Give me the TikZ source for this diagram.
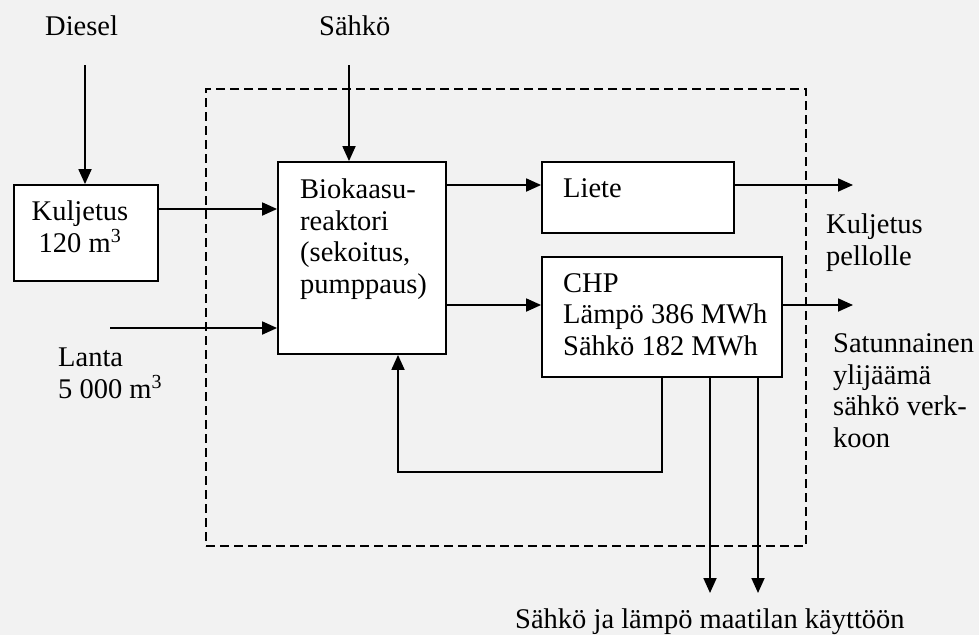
\documentclass[tikz,border=0pt]{standalone}
\usepackage{fontspec}
\setmainfont{Liberation Serif}
\usetikzlibrary{arrows.meta}
\definecolor{bg}{HTML}{F2F2F2}
\begin{document}
\begin{tikzpicture}[x=1pt,y=-1pt,
  txt/.style={inner sep=0pt, anchor=base west, align=left, font=\fontsize{28.5}{31.5}\selectfont},
  box/.style={draw, fill=white, line width=1.8pt, inner sep=0pt},
  arr/.style={line width=1.8pt, -{Triangle[length=15pt,width=13pt]}},
  frame/.style={line width=1.4pt, dash pattern=on 9pt off 5pt}]
\fill[bg] (0,0) rectangle (979,635);
\useasboundingbox (0,0) rectangle (979,635);

% system boundary
\node[frame, draw, minimum width=600pt, minimum height=457pt, inner sep=0pt] (sys) at (506,317.5) {};

% boxes
\node[box, minimum width=144pt, minimum height=96pt] (kul) at (86,233) {};
\node[box, minimum width=168pt, minimum height=192pt] (bio) at (362,258) {};
\node[box, minimum width=192pt, minimum height=71pt] (liete) at (638,197.5) {};
\node[box, minimum width=240pt, minimum height=120pt] (chp) at (662,317) {};

% texts (multi-line nodes: base = last line)
\node[txt] (diesel) at (45,35) {Diesel};
\node[txt] (sahko) at (319,35) {Sähkö};
\node[txt, anchor=base, align=center] (kultxt) at (80,252) {Kuljetus\\120 m\textsuperscript{3}};
\node[txt] (lanta) at (58,398) {Lanta\\5~000 m\textsuperscript{3}};
\node[txt] (biotxt) at (300,293) {Biokaasu-\\reaktori\\(sekoitus,\\pumppaus)};
\node[txt] (lietetxt) at (563,197) {Liete};
\node[txt] (chptxt) at (563,355) {CHP\\Lämpö 386 MWh\\Sähkö 182 MWh};
\node[txt] (pellolle) at (826,265) {Kuljetus\\pellolle};
\node[txt] (satun) at (833,447) {Satunnainen\\ylijäämä\\sähkö verk-\\koon};
\node[txt] (maatila) at (515,628) {Sähkö ja lämpö maatilan käyttöön};

% free ends
\coordinate (dtop) at (85,65);
\coordinate (stop) at (349,65);
\coordinate (lin) at (110,328);
\coordinate (lout) at (853,185);
\coordinate (cout) at (853,305);
\coordinate (fb) at (398,472);
\coordinate (d1) at (710,593);
\coordinate (d2) at (758,593);

% connectors
\draw[arr] (dtop) -- (dtop |- kul.north);
\draw[arr] (stop) -- (stop |- bio.north);
\draw[arr] (kul.east |- 0,209) -- (bio.west |- 0,209);
\draw[arr] (lin) -- (lin -| bio.west);
\draw[arr] (bio.east |- 0,185) -- (liete.west |- 0,185);
\draw[arr] (liete.east |- lout) -- (lout);
\draw[arr] (bio.east |- 0,305) -- (chp.west |- 0,305);
\draw[arr] (chp.east |- cout) -- (cout);
\draw[arr] (chp.south) |- (fb) -- (fb |- bio.south);
\draw[arr] (d1 |- chp.south) -- (d1);
\draw[arr] (d2 |- chp.south) -- (d2);
\end{tikzpicture}
\end{document}
